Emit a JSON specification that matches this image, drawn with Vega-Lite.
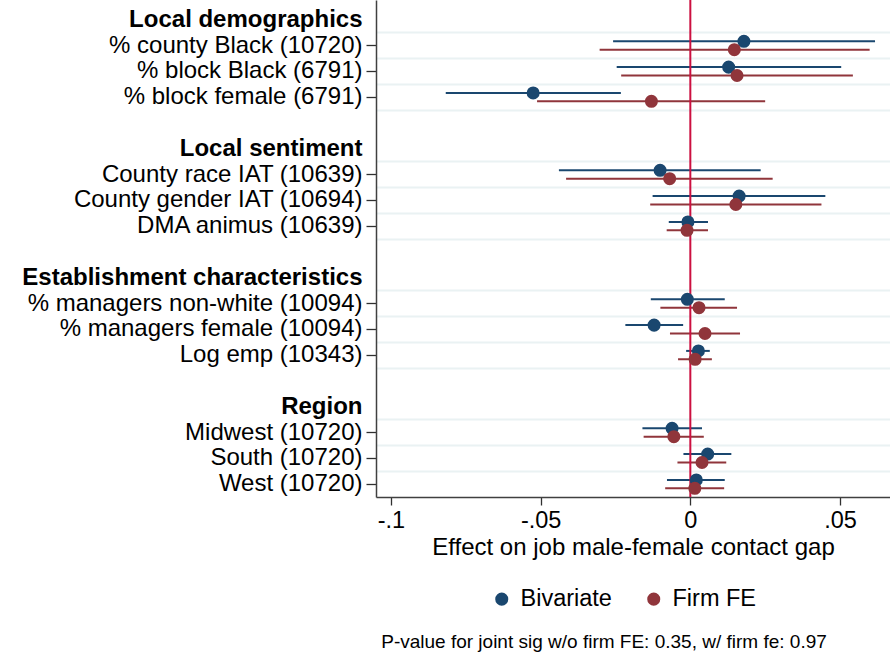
{
  "$schema": "https://vega.github.io/schema/vega-lite/v6.json",
  "width": 514,
  "height": 497,
  "autosize": {"type": "none"},
  "padding": {"left": 376, "top": 0, "right": 0, "bottom": 156},
  "background": "white",
  "config": {
    "font": "Liberation Sans",
    "view": {"stroke": null}
  },
  "title": {
    "text": "P-value for joint sig w/o firm FE: 0.35, w/ firm fe: 0.97",
    "orient": "bottom",
    "anchor": "middle",
    "frame": "group",
    "fontSize": 19,
    "fontWeight": "normal",
    "color": "black",
    "offset": 22,
    "dx": -29
  },
  "data": {
    "values": [
      {"var": "% county Black (10720)", "series": "Bivariate", "est": 0.0179, "lo": -0.0258, "hi": 0.0617},
      {"var": "% county Black (10720)", "series": "Firm FE", "est": 0.0147, "lo": -0.0303, "hi": 0.0599},
      {"var": "% block Black (6791)", "series": "Bivariate", "est": 0.0128, "lo": -0.0246, "hi": 0.0504},
      {"var": "% block Black (6791)", "series": "Firm FE", "est": 0.0156, "lo": -0.0231, "hi": 0.0543},
      {"var": "% block female (6791)", "series": "Bivariate", "est": -0.0525, "lo": -0.0817, "hi": -0.0232},
      {"var": "% block female (6791)", "series": "Firm FE", "est": -0.0130, "lo": -0.0512, "hi": 0.0250},
      {"var": "County race IAT (10639)", "series": "Bivariate", "est": -0.0101, "lo": -0.0439, "hi": 0.0235},
      {"var": "County race IAT (10639)", "series": "Firm FE", "est": -0.0069, "lo": -0.0415, "hi": 0.0275},
      {"var": "County gender IAT (10694)", "series": "Bivariate", "est": 0.0163, "lo": -0.0126, "hi": 0.0451},
      {"var": "County gender IAT (10694)", "series": "Firm FE", "est": 0.0152, "lo": -0.0134, "hi": 0.0438},
      {"var": "DMA animus (10639)", "series": "Bivariate", "est": -0.0008, "lo": -0.0072, "hi": 0.0059},
      {"var": "DMA animus (10639)", "series": "Firm FE", "est": -0.0011, "lo": -0.0079, "hi": 0.0059},
      {"var": "% managers non-white (10094)", "series": "Bivariate", "est": -0.0010, "lo": -0.0132, "hi": 0.0115},
      {"var": "% managers non-white (10094)", "series": "Firm FE", "est": 0.0029, "lo": -0.0100, "hi": 0.0156},
      {"var": "% managers female (10094)", "series": "Bivariate", "est": -0.0121, "lo": -0.0217, "hi": -0.0024},
      {"var": "% managers female (10094)", "series": "Firm FE", "est": 0.0049, "lo": -0.0068, "hi": 0.0166},
      {"var": "Log emp (10343)", "series": "Bivariate", "est": 0.0027, "lo": -0.0014, "hi": 0.0065},
      {"var": "Log emp (10343)", "series": "Firm FE", "est": 0.0016, "lo": -0.0041, "hi": 0.0072},
      {"var": "Midwest (10720)", "series": "Bivariate", "est": -0.0061, "lo": -0.0160, "hi": 0.0039},
      {"var": "Midwest (10720)", "series": "Firm FE", "est": -0.0055, "lo": -0.0156, "hi": 0.0045},
      {"var": "South (10720)", "series": "Bivariate", "est": 0.0058, "lo": -0.0023, "hi": 0.0137},
      {"var": "South (10720)", "series": "Firm FE", "est": 0.0039, "lo": -0.0043, "hi": 0.0120},
      {"var": "West (10720)", "series": "Bivariate", "est": 0.0020, "lo": -0.0078, "hi": 0.0115},
      {"var": "West (10720)", "series": "Firm FE", "est": 0.0015, "lo": -0.0084, "hi": 0.0113}
    ]
  },
  "layer": [
    {
      "mark": {"type": "rule", "strokeWidth": 2},
      "encoding": {
        "y": {
          "field": "var",
          "type": "nominal",
          "scale": {
            "domain": ["Local demographics", "% county Black (10720)", "% block Black (6791)", "% block female (6791)", " ", "Local sentiment", "County race IAT (10639)", "County gender IAT (10694)", "DMA animus (10639)", "  ", "Establishment characteristics", "% managers non-white (10094)", "% managers female (10094)", "Log emp (10343)", "   ", "Region", "Midwest (10720)", "South (10720)", "West (10720)"],
            "paddingInner": 0,
            "paddingOuter": 0.132,
            "align": 1
          },
          "axis": {
            "orient": "right",
            "bandPosition": 0,
            "labels": false,
            "ticks": false,
            "domain": false,
            "grid": true,
            "gridColor": "#eaf2f3",
            "gridWidth": 2,
            "gridOpacity": {"condition": {"test": "indexof(['Local demographics','Local sentiment','Establishment characteristics','Region'], datum.value) >= 0", "value": 0}, "value": 1},
            "title": null
          }
        },
        "yOffset": {"field": "series", "type": "nominal", "scale": {"domain": ["Bivariate", "Firm FE"], "paddingInner": 0, "paddingOuter": 0.536}},
        "x": {
          "field": "lo",
          "type": "quantitative",
          "scale": {"domain": [-0.105, 0.0667], "nice": false, "zero": false},
          "axis": {
            "values": [-0.1, -0.05, 0, 0.05],
            "labelExpr": "(datum.value < 0 ? '-' : '') + replace('' + abs(datum.value), '0.', '.')",
            "title": "Effect on job male-female contact gap",
            "titleFontSize": 24,
            "titleFontWeight": "normal",
            "titleColor": "black",
            "titlePadding": 4,
            "labelFontSize": 23.5,
            "labelColor": "black",
            "labelPadding": 3,
            "tickSize": 8,
            "tickColor": "#303030",
            "tickWidth": 1.3,
            "domainColor": "#404040",
            "domainWidth": 1.5,
            "grid": false
          }
        },
        "x2": {"field": "hi"},
        "color": {"field": "series", "type": "nominal", "scale": {"domain": ["Bivariate", "Firm FE"], "range": ["#1a476f", "#90353b"]}}
      }
    },
    {
      "data": {"values": [{}]},
      "mark": {"type": "rule", "color": "#cc1040", "strokeWidth": 2},
      "encoding": {"x": {"datum": 0}}
    },
    {
      "mark": {"type": "point", "filled": true, "opacity": 1, "size": 170, "shape": "circle"},
      "encoding": {
        "y": {
          "field": "var",
          "type": "nominal",
          "axis": {
            "orient": "left",
            "title": null,
            "grid": false,
            "domain": true,
            "domainColor": "#404040",
            "domainWidth": 1.5,
            "ticks": true,
            "tickSize": 10,
            "tickWidth": 1.3,
            "tickColor": "#303030",
            "tickOpacity": {"condition": {"test": "indexof(['Local demographics','Local sentiment','Establishment characteristics','Region', ' ', '  ', '   '], datum.value) >= 0", "value": 0}, "value": 1},
            "labelFontSize": 24,
            "labelColor": "black",
            "labelFontWeight": {"condition": {"test": "indexof(['Local demographics','Local sentiment','Establishment characteristics','Region'], datum.value) >= 0", "value": "bold"}, "value": "normal"},
            "labelPadding": 4,
            "labelLimit": 500
          }
        },
        "yOffset": {"field": "series", "type": "nominal"},
        "x": {"field": "est", "type": "quantitative"},
        "color": {
          "field": "series",
          "type": "nominal",
          "legend": {
            "orient": "none",
            "legendX": 114,
            "legendY": 587,
            "direction": "horizontal",
            "title": null,
            "labelFontSize": 23.5,
            "labelColor": "black",
            "symbolSize": 170,
            "symbolType": "circle",
            "symbolStrokeWidth": 0,
            "labelOffset": 7,
            "columnPadding": 30
          }
        }
      }
    }
  ],
  "resolve": {"axis": {"y": "independent"}}
}
